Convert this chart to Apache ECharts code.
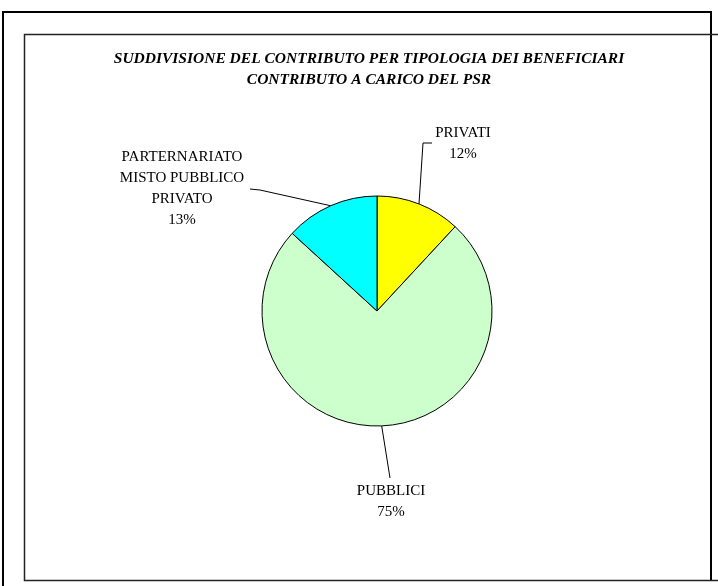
<!DOCTYPE html>
<html>
<head>
<meta charset="utf-8">
<script src="https://cdn.jsdelivr.net/npm/echarts@6/dist/echarts.min.js"></script>
<style>
html,body{margin:0;padding:0;background:#fff;}
#chart{width:718px;height:586px;}
</style>
</head>
<body>
<div id="chart"></div>
<script>
// ---- data ----
const titleLines = ['SUDDIVISIONE DEL CONTRIBUTO PER TIPOLOGIA DEI BENEFICIARI', 'CONTRIBUTO A CARICO DEL PSR'];
const categories = ['PRIVATI', 'PUBBLICI', 'PARTERNARIATO\nMISTO PUBBLICO\nPRIVATO'];
const shares = [11.9, 74.9, 13.2];
const sliceColors = ['#FFFF00', '#CCFFCC', '#00FFFF'];

// ---- layout (label placement) ----
const labelPlace = [
  { x: 463, y: 144, elbow: [[423, 143], [432, 143]] },
  { x: 391, y: 502, elbow: [[390, 478]] },
  { x: 182, y: 189, elbow: [[260, 190], [250, 189]] }
];

const serif = '"Liberation Serif", "Times New Roman", serif';
const chart = echarts.init(document.getElementById('chart'), null, { renderer: 'canvas' });

chart.setOption({
  backgroundColor: '#ffffff',
  animation: false,
  graphic: [
    // outer frame
    { type: 'polyline', silent: true, shape: { points: [[3, 586], [3, 12], [711, 12], [711, 580]] },
      style: { stroke: '#000', lineWidth: 2, fill: null } },
    // inner box
    { type: 'polyline', silent: true, shape: { points: [[718, 34.5], [24.5, 34.5], [24.5, 580.5], [718, 580.5]] },
      style: { stroke: '#222', lineWidth: 1.5, fill: null } },
    { type: 'text', silent: true, x: 369, y: 48,
      style: { text: titleLines.join('\n'), align: 'center', verticalAlign: 'top', lineHeight: 21,
        font: 'italic bold 15.5px ' + serif, fill: '#000' } }
  ],
  series: [{
    type: 'pie',
    center: [377, 311],
    radius: 115,
    startAngle: 90,
    clockwise: true,
    percentPrecision: 0,
    avoidLabelOverlap: false,
    data: categories.map((c, i) => ({ name: c, value: shares[i], itemStyle: { color: sliceColors[i] } })),
    itemStyle: { borderColor: '#000', borderWidth: 1 },
    label: {
      show: true,
      position: 'outside',
      formatter: '{b}\n{d}%',
      fontFamily: serif,
      fontSize: 15,
      lineHeight: 21,
      color: '#000',
      align: 'center'
    },
    labelLine: { show: true, length: 20, length2: 10, lineStyle: { color: '#000', width: 1 } },
    labelLayout: function (params) {
      const p = labelPlace[params.dataIndex];
      const start = params.labelLinePoints ? params.labelLinePoints[0] : null;
      const out = { x: p.x, y: p.y, align: 'center', verticalAlign: 'middle' };
      if (start) out.labelLinePoints = [start].concat(p.elbow);
      return out;
    },
    emphasis: { disabled: true }
  }]
});
</script>
</body>
</html>
